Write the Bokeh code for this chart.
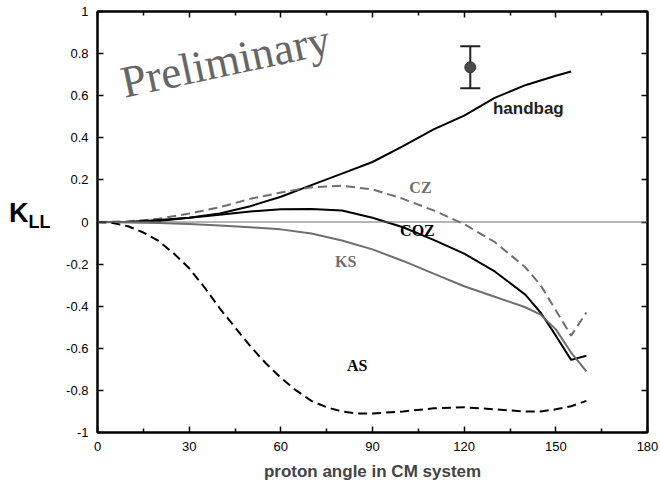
from bokeh.plotting import figure
from bokeh.layouts import row
from bokeh.models import (Range1d, LinearAxis, FixedTicker, Span, Label, Whisker,
                          ColumnDataSource, Div)
from bokeh.embed import file_html
from bokeh.resources import INLINE

# ---- data ----
hb_x = [0, 10, 20, 30, 40, 50, 60, 70, 80, 90, 100, 110, 120, 130, 140, 150, 155]
hb_y = [0, 0.0, 0.005, 0.02, 0.04, 0.075, 0.12, 0.175, 0.23, 0.285, 0.36, 0.44, 0.505, 0.59, 0.65, 0.695, 0.715]

cz_x = [0, 10, 20, 30, 40, 50, 60, 70, 80, 90, 100, 110, 120, 130, 140, 145, 150, 155, 160]
cz_y = [0, 0.003, 0.015, 0.04, 0.07, 0.11, 0.14, 0.165, 0.172, 0.155, 0.11, 0.055, -0.01, -0.095, -0.215, -0.3, -0.42, -0.54, -0.43]

coz_x = [0, 10, 20, 30, 40, 50, 60, 70, 80, 90, 100, 110, 120, 130, 140, 145, 150, 155, 160]
coz_y = [0, 0.0, 0.01, 0.02, 0.035, 0.05, 0.06, 0.062, 0.055, 0.02, -0.025, -0.085, -0.15, -0.235, -0.345, -0.43, -0.54, -0.655, -0.635]

ks_x = [0, 10, 20, 30, 40, 50, 60, 70, 80, 90, 100, 110, 120, 130, 140, 145, 150, 155, 160]
ks_y = [0, -0.002, -0.005, -0.01, -0.017, -0.025, -0.035, -0.055, -0.088, -0.13, -0.185, -0.245, -0.305, -0.355, -0.405, -0.44, -0.51, -0.62, -0.71]

as_x = [0, 5, 10, 15, 20, 25, 30, 35, 40, 45, 50, 55, 60, 65, 70, 75, 80, 85, 90, 100, 110, 120, 130, 140, 145, 150, 155, 160]
as_y = [0, -0.005, -0.02, -0.05, -0.09, -0.15, -0.22, -0.31, -0.41, -0.5, -0.59, -0.67, -0.74, -0.8, -0.85, -0.88, -0.9, -0.91, -0.91, -0.9, -0.885, -0.88, -0.89, -0.9, -0.9, -0.89, -0.875, -0.85]

pt_x = [122]
pt_y = [0.735]
pt_err = [0.1]

x_ticks = [0, 30, 60, 90, 120, 150, 180]
x_minor = [15, 45, 75, 105, 135, 165]
y_ticks = [-1, -0.8, -0.6, -0.4, -0.2, 0, 0.2, 0.4, 0.6, 0.8, 1]
y_labels = {-1: "-1", -0.8: "-0.8", -0.6: "-0.6", -0.4: "-0.4", -0.2: "-0.2", 0: "0",
            0.2: "0.2", 0.4: "0.4", 0.6: "0.6", 0.8: "0.8", 1: "1"}

GRAY = "#6e6e6e"
SANS = "Liberation Sans"
SERIF = "Liberation Serif"

LEFT_PANEL = 56

p = figure(frame_width=550, frame_height=421, min_border_left=97 - LEFT_PANEL,
           min_border_right=13, min_border_top=11, min_border_bottom=66,
           x_range=Range1d(0, 180), y_range=Range1d(-1, 1),
           output_backend="svg", toolbar_location=None, x_axis_location=None,
           y_axis_location=None, background_fill_color="white", border_fill_color="white")
p.grid.visible = False
p.outline_line_color = "black"
p.outline_line_width = 2


def style_axis(ax, ticks, minor, labels=True, minor_ticks=True):
    ax.ticker = FixedTicker(ticks=ticks, minor_ticks=minor if minor_ticks else [])
    ax.major_tick_in = 6
    ax.major_tick_out = 0
    ax.minor_tick_in = 4
    ax.minor_tick_out = 0
    ax.axis_line_color = "black"
    ax.axis_line_width = 2
    ax.major_tick_line_width = 1.5
    ax.minor_tick_line_width = 1.5
    ax.major_tick_line_color = "black"
    ax.minor_tick_line_color = "black"
    if labels:
        ax.major_label_text_font = SANS
        ax.major_label_text_font_size = "13px"
        ax.major_label_text_color = "black"
        ax.major_label_standoff = 9
    else:
        ax.major_label_text_font_size = "0px"
        ax.major_label_text_color = None
        ax.major_label_standoff = 0


bottom = LinearAxis(axis_label="proton angle in CM system")
style_axis(bottom, x_ticks, x_minor)
bottom.axis_label_text_font = SANS
bottom.axis_label_text_font_style = "bold"
bottom.axis_label_text_font_size = "17px"
bottom.axis_label_standoff = 8
p.add_layout(bottom, "below")

top = LinearAxis()
style_axis(top, x_ticks, x_minor, labels=False)
p.add_layout(top, "above")

left = LinearAxis()
style_axis(left, y_ticks, [], minor_ticks=False)
left.major_label_overrides = y_labels
p.add_layout(left, "left")

right = LinearAxis()
style_axis(right, y_ticks, [], labels=False, minor_ticks=False)
p.add_layout(right, "right")

# zero line
p.add_layout(Span(location=0, dimension="width", line_color=GRAY, line_width=1))

# curves
p.line(hb_x, hb_y, line_color="black", line_width=2)
p.line(cz_x, cz_y, line_color=GRAY, line_width=2, line_dash="9 5")
p.line(coz_x, coz_y, line_color="black", line_width=2)
p.line(ks_x, ks_y, line_color=GRAY, line_width=2)
p.line(as_x, as_y, line_color="black", line_width=2, line_dash="9 5")

# data point with error bar
src = ColumnDataSource(dict(x=pt_x, y=pt_y,
                            lo=[y - e for y, e in zip(pt_y, pt_err)],
                            hi=[y + e for y, e in zip(pt_y, pt_err)]))
w = Whisker(source=src, base="x", lower="lo", upper="hi", line_color="#222222",
            line_width=2)
w.upper_head.size = 20
w.lower_head.size = 20
w.upper_head.line_width = 2
w.lower_head.line_width = 2
w.upper_head.line_color = "#222222"
w.lower_head.line_color = "#222222"
p.add_layout(w)
p.scatter("x", "y", source=src, size=11, fill_color="#4a4a4a", line_color="#333333")

# curve labels
def lab(x, y, t, color, font, size, angle=0.0):
    p.add_layout(Label(x=x, y=y, text=t, text_color=color, text_font=font,
                       text_font_size=size, text_font_style="bold",
                       text_align="center", text_baseline="middle", angle=angle))

lab(141, 0.54, "handbag", "#222222", SANS, "17px")
lab(105.7, 0.164, "CZ", GRAY, SERIF, "16px")
lab(104.7, -0.04, "COZ", "black", SERIF, "16px")
lab(81.2, -0.19, "KS", GRAY, SERIF, "16px")
lab(85, -0.68, "AS", "black", SERIF, "16px")

p.add_layout(Label(x=41.9, y=0.765, text="Preliminary", text_color="#666666",
                   text_font=SERIF, text_font_size="45px", text_align="center",
                   text_baseline="middle", angle=0.21))

# y-axis title K_LL, horizontal, in a narrow panel left of the plot
ylab = Div(
    text=('<div style="margin-top:200px;margin-left:9px;font-family:\'Liberation Sans\';'
          'font-weight:bold;font-size:27px;line-height:27px;color:black;white-space:nowrap;">'
          'K<sub style="font-size:18px;line-height:18px;vertical-align:-6px;">LL</sub></div>'),
    width=LEFT_PANEL, height=498, margin=0)

layout = row(ylab, p, spacing=0)
open("out.html", "w").write(file_html(layout, INLINE))
